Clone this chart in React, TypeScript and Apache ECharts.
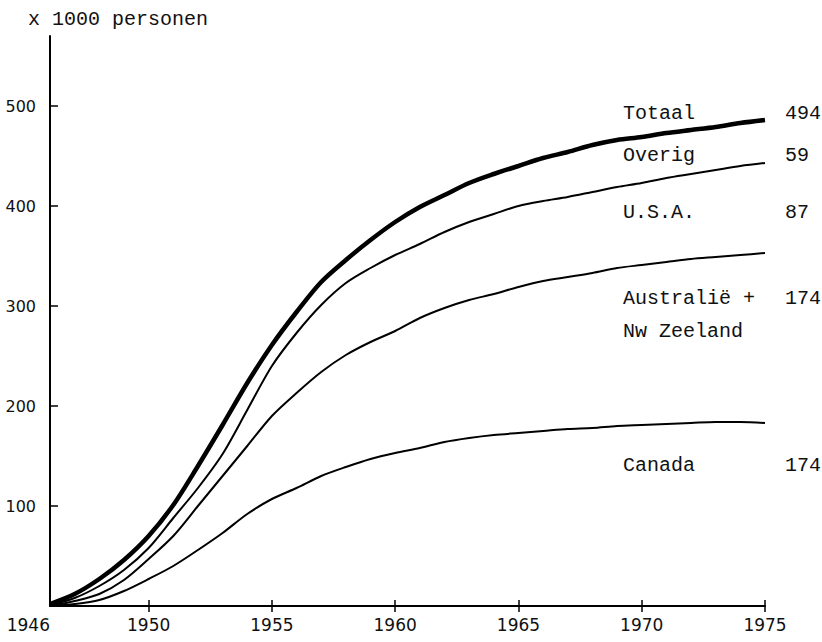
import React, { useEffect, useRef } from "react";
import * as echarts from "echarts";

const years = [1946, 1947, 1948, 1949, 1950, 1951, 1952, 1953, 1954, 1955, 1956, 1957, 1958, 1959, 1960, 1961, 1962, 1963, 1964, 1965, 1966, 1967, 1968, 1969, 1970, 1971, 1972, 1973, 1974, 1975];
// cumulative emigration, x 1000 persons (stacked boundaries)
const totaal = [2, 12, 27, 46, 70, 101, 140, 181, 223, 261, 294, 324, 346, 366, 384, 399, 411, 423, 432, 440, 448, 454, 461, 466, 469, 473, 476, 479, 483, 486];
const totUSA = [1, 8, 20, 36, 58, 88, 118, 152, 196, 240, 273, 301, 323, 338, 351, 362, 374, 384, 392, 400, 405, 409, 414, 419, 423, 428, 432, 436, 440, 443];
const totAustralie = [0, 5, 12, 26, 47, 70, 100, 130, 160, 190, 213, 234, 251, 264, 275, 288, 298, 306, 312, 319, 325, 329, 333, 338, 341, 344, 347, 349, 351, 353];
const canada = [0, 2, 6, 15, 27, 40, 56, 73, 92, 107, 118, 130, 139, 147, 153, 158, 164, 168, 171, 173, 175, 177, 178, 180, 181, 182, 183, 184, 184, 183];

const yTicks = [100, 200, 300, 400, 500];
const xTicks = [1950, 1955, 1960, 1965, 1970, 1975];
const xLabels = [1946, 1950, 1955, 1960, 1965, 1970, 1975];

const regionNames = ["Totaal", "Overig", "U.S.A.", "Australië +", "Nw Zeeland", "Canada"];
const regionTotals = ["494", "59", "87", "174", "", "174"];

const mono = "'Liberation Mono', 'DejaVu Sans Mono', monospace";
const sans = "'DejaVu Sans', sans-serif";

export default function App() {
  const ref = useRef<HTMLDivElement>(null);
  useEffect(() => {
    document.body.style.margin = "0";
    const chart = echarts.init(ref.current!, null, { renderer: "svg" });
    const pair = (arr: number[]) => years.map((y, i) => [y, arr[i]]);
    const lineSeries = (name: string, arr: number[], w: number) => ({
      name,
      type: "line",
      data: pair(arr),
      showSymbol: false,
      smooth: 0.3,
      lineStyle: { color: "#000", width: w },
      z: 3,
    });
    const labelYs = [113, 155, 212, 298, 331, 465];
    const graphics: any[] = [];
    regionNames.forEach((n, i) => {
      graphics.push({
        type: "text",
        left: 623,
        top: labelYs[i] - 10,
        style: { text: n, font: `20px ${mono}`, fill: "#111" },
      });
      if (regionTotals[i]) {
        graphics.push({
          type: "text",
          left: 785,
          top: labelYs[i] - 10,
          style: { text: regionTotals[i], font: `20px ${mono}`, fill: "#111" },
        });
      }
    });
    graphics.push({
      type: "text",
      left: 28,
      top: 9,
      style: { text: "x 1000 personen", font: `20px ${mono}`, fill: "#111" },
    });
    chart.setOption({
      animation: false,
      backgroundColor: "#fff",
      grid: { left: 50, right: 57, top: 36, bottom: 36, containLabel: false },
      xAxis: [
        {
          type: "value",
          min: 1946,
          max: 1975,
          splitLine: { show: false },
          axisLine: { show: true, lineStyle: { color: "#000", width: 2 } },
          axisTick: { show: true, customValues: xTicks, length: 6, lineStyle: { color: "#000", width: 1.5 } },
          axisLabel: {
            customValues: xLabels,
            formatter: (v: number) => String(v),
            color: "#111",
            fontFamily: sans,
            fontSize: 17,
            margin: 10,
            alignMinLabel: "right",
          },
        },
        {
          type: "value",
          min: 1946,
          max: 1975,
          position: "bottom",
          splitLine: { show: false },
          axisLine: { show: false },
          axisTick: { show: true, inside: true, customValues: xTicks, length: 6, lineStyle: { color: "#000", width: 1.5 } },
          axisLabel: { show: false },
        },
      ],
      yAxis: {
        type: "value",
        min: 0,
        max: 570,
        splitLine: { show: false },
        axisLine: { show: true, lineStyle: { color: "#000", width: 2 } },
        axisTick: { show: true, inside: true, customValues: yTicks, length: 8, lineStyle: { color: "#000", width: 1.5 } },
        axisLabel: {
          customValues: yTicks,
          color: "#111",
          fontFamily: sans,
          fontSize: 16,
          margin: 14,
        },
      },
      series: [
        lineSeries("Canada", canada, 2),
        lineSeries("Australië + Nw Zeeland", totAustralie, 2),
        lineSeries("U.S.A.", totUSA, 2),
        lineSeries("Totaal", totaal, 4.5),
      ],
      graphic: graphics,
    });
    return () => chart.dispose();
  }, []);
  return <div ref={ref} style={{ width: 822, height: 642 }} />;
}
